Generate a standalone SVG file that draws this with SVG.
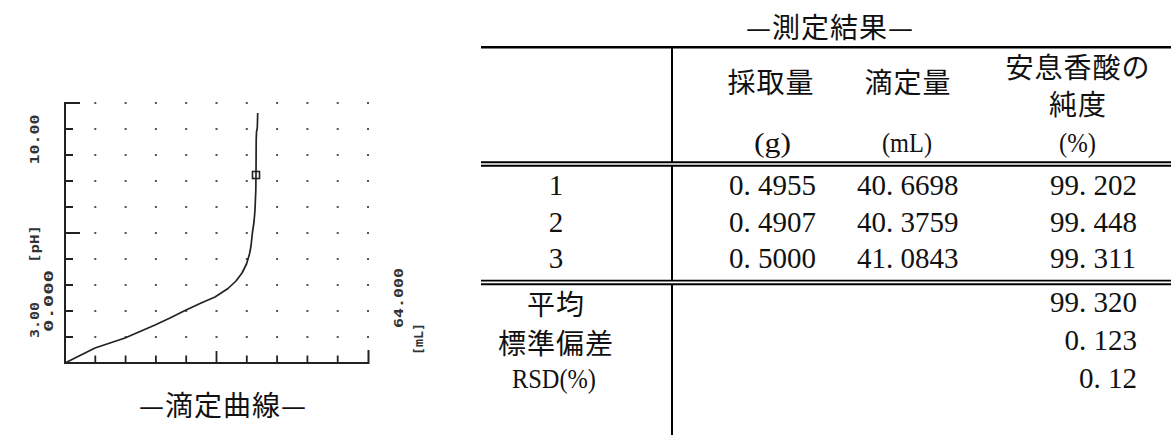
<svg xmlns="http://www.w3.org/2000/svg" width="1171" height="435" viewBox="0 0 1171 435">
<style>
.j{font-family:"Noto Sans CJK JP","Liberation Sans",sans-serif;font-size:28px;letter-spacing:1px;fill:#111}
.n{font-family:"Liberation Serif","Noto Sans CJK JP",serif;font-size:29px;fill:#111}
.u{font-family:"Liberation Serif","Noto Sans CJK JP",serif;font-size:28px;fill:#111}
.lab{font-family:"DejaVu Sans Mono","Liberation Mono",monospace;font-size:12px;font-weight:bold;fill:#333}
.ax{stroke:#222;stroke-width:2;fill:none}
.tk{stroke:#222;stroke-width:1.8;fill:none}
.tl{stroke:#000;fill:none}
</style>
<rect width="1171" height="435" fill="#fff"/>

<g id="chart">
  <g id="grid-dots">
    <path stroke="#555" stroke-width="2" fill="none" d="M94.3,103h2m28.3,0h2m28.3,0h2m28.3,0h2m28.3,0h2m28.3,0h2m28.3,0h2m28.3,0h2m28.3,0h2m28.3,0h2
M94.3,129h2m28.3,0h2m28.3,0h2m28.3,0h2m28.3,0h2m28.3,0h2m28.3,0h2m28.3,0h2m28.3,0h2m28.3,0h2
M94.3,155h2m28.3,0h2m28.3,0h2m28.3,0h2m28.3,0h2m28.3,0h2m28.3,0h2m28.3,0h2m28.3,0h2m28.3,0h2
M94.3,181h2m28.3,0h2m28.3,0h2m28.3,0h2m28.3,0h2m28.3,0h2m28.3,0h2m28.3,0h2m28.3,0h2m28.3,0h2
M94.3,207h2m28.3,0h2m28.3,0h2m28.3,0h2m28.3,0h2m28.3,0h2m28.3,0h2m28.3,0h2m28.3,0h2m28.3,0h2
M94.3,233h2m28.3,0h2m28.3,0h2m28.3,0h2m28.3,0h2m28.3,0h2m28.3,0h2m28.3,0h2m28.3,0h2m28.3,0h2
M94.3,259h2m28.3,0h2m28.3,0h2m28.3,0h2m28.3,0h2m28.3,0h2m28.3,0h2m28.3,0h2m28.3,0h2m28.3,0h2
M94.3,285h2m28.3,0h2m28.3,0h2m28.3,0h2m28.3,0h2m28.3,0h2m28.3,0h2m28.3,0h2m28.3,0h2m28.3,0h2
M94.3,311h2m28.3,0h2m28.3,0h2m28.3,0h2m28.3,0h2m28.3,0h2m28.3,0h2m28.3,0h2m28.3,0h2m28.3,0h2
M94.3,337h2m28.3,0h2m28.3,0h2m28.3,0h2m28.3,0h2m28.3,0h2m28.3,0h2m28.3,0h2m28.3,0h2m28.3,0h2"/>
  </g>
  <g id="axes">
    <path class="ax" d="M65,102V363H368.5V350"/>
    <path class="tk" d="M65,103H80M65,129H73M65,155H73M65,181H73M65,207H73M65,233H80M65,259H73M65,285H73M65,311H73M65,337H73"/>
    <path class="tk" d="M95.3,363V355.5M125.6,363V355.5M155.9,363V355.5M186.2,363V355.5M216.5,363V351M246.8,363V355.5M277.1,363V355.5M307.4,363V355.5M337.7,363V355.5"/>
  </g>
  <g id="curve">
    <path stroke="#222" stroke-width="1.7" fill="none" stroke-linejoin="round" d="M65,363 L80,355.5 L95,348 L110,343 L125,338 L140,331.5 L155,325 L170,318 L185,310.5 L200,303.5 L215,297 L228,288.5 L236,281 L242,273 L246.5,264 L249.5,254 L251,246 L252.5,232 L254,222 L255,210 L255.8,190 L256,175 L256.2,140 L256.5,132 L257.3,128 L257.7,113"/>
    <rect x="252.5" y="171.5" width="7" height="7" fill="none" stroke="#222" stroke-width="1.6"/>
  </g>
  <g id="axis-labels">
    <text class="lab" transform="translate(34.5,139.5) rotate(-90)" x="0" y="4.5" text-anchor="middle" textLength="50" lengthAdjust="spacingAndGlyphs">10.00</text>
    <text class="lab" transform="translate(34.5,244) rotate(-90)" x="0" y="4.5" text-anchor="middle" textLength="38" lengthAdjust="spacingAndGlyphs">[pH]</text>
    <text class="lab" transform="translate(34.5,320) rotate(-90)" x="0" y="4.5" text-anchor="middle" textLength="36" lengthAdjust="spacingAndGlyphs">3.00</text>
    <text class="lab" transform="translate(48.5,301) rotate(-90)" x="0" y="4.5" text-anchor="middle" textLength="62" lengthAdjust="spacingAndGlyphs">0.000</text>
    <text class="lab" transform="translate(398,298) rotate(-90)" x="0" y="4.5" text-anchor="middle" textLength="60" lengthAdjust="spacingAndGlyphs">64.000</text>
    <text class="lab" transform="translate(418,339) rotate(-90)" x="0" y="4.5" text-anchor="middle" textLength="32" lengthAdjust="spacingAndGlyphs">[mL]</text>
  </g>
  <text id="chart-caption" class="j" x="223" y="415.5" text-anchor="middle">—滴定曲線—</text>
</g>

<g id="results">
  <text id="table-title" class="j" x="830" y="38" text-anchor="middle">—測定結果—</text>
  <g id="table-lines">
    <path class="tl" stroke-width="2.6" d="M481,47.3H1171"/>
    <path class="tl" stroke-width="1.9" d="M481,162.2H1171M481,165.8H1171M481,280.6H1171M481,284.2H1171"/>
    <path class="tl" stroke-width="2" d="M672,47V162.2M672,165.8V280.6M672,284.2V435"/>
  </g>
  <g id="header">
    <text class="j" x="771" y="93" text-anchor="middle">採取量</text>
    <text class="j" x="908" y="93" text-anchor="middle">滴定量</text>
    <text class="j" x="1078" y="78" text-anchor="middle">安息香酸の</text>
    <text class="j" x="1078" y="114.5" text-anchor="middle">純度</text>
    <text class="u" x="754" y="152" textLength="37" lengthAdjust="spacingAndGlyphs">(g)</text>
    <text class="u" x="882" y="152" textLength="50" lengthAdjust="spacingAndGlyphs">(mL)</text>
    <text class="u" x="1059" y="152" textLength="37" lengthAdjust="spacingAndGlyphs">(%)</text>
  </g>
  <g id="row-1">
    <text class="n" x="556" y="195" text-anchor="middle">1</text>
    <text class="n" x="729" y="195">0.<tspan dx="7.25">4955</tspan></text>
    <text class="n" x="857" y="195">40.<tspan dx="7.25">6698</tspan></text>
    <text class="n" x="1050" y="195">99.<tspan dx="7.25">202</tspan></text>
  </g>
  <g id="row-2">
    <text class="n" x="556" y="231.7" text-anchor="middle">2</text>
    <text class="n" x="729" y="231.7">0.<tspan dx="7.25">4907</tspan></text>
    <text class="n" x="857" y="231.7">40.<tspan dx="7.25">3759</tspan></text>
    <text class="n" x="1050" y="231.7">99.<tspan dx="7.25">448</tspan></text>
  </g>
  <g id="row-3">
    <text class="n" x="556" y="268.3" text-anchor="middle">3</text>
    <text class="n" x="729" y="268.3">0.<tspan dx="7.25">5000</tspan></text>
    <text class="n" x="857" y="268.3">41.<tspan dx="7.25">0843</tspan></text>
    <text class="n" x="1050" y="268.3">99.<tspan dx="7.25">311</tspan></text>
  </g>
  <g id="stats">
    <text class="j" x="556" y="314.5" text-anchor="middle">平均</text>
    <text class="n" x="1050" y="311.7">99.<tspan dx="7.25">320</tspan></text>
    <text class="j" x="556" y="353.5" text-anchor="middle">標準偏差</text>
    <text class="n" x="1064.5" y="350">0.<tspan dx="7.25">123</tspan></text>
    <text class="u" x="512" y="387.5" textLength="84" lengthAdjust="spacingAndGlyphs">RSD(%)</text>
    <text class="n" x="1079" y="388.3">0.<tspan dx="7.25">12</tspan></text>
  </g>
</g>
</svg>
